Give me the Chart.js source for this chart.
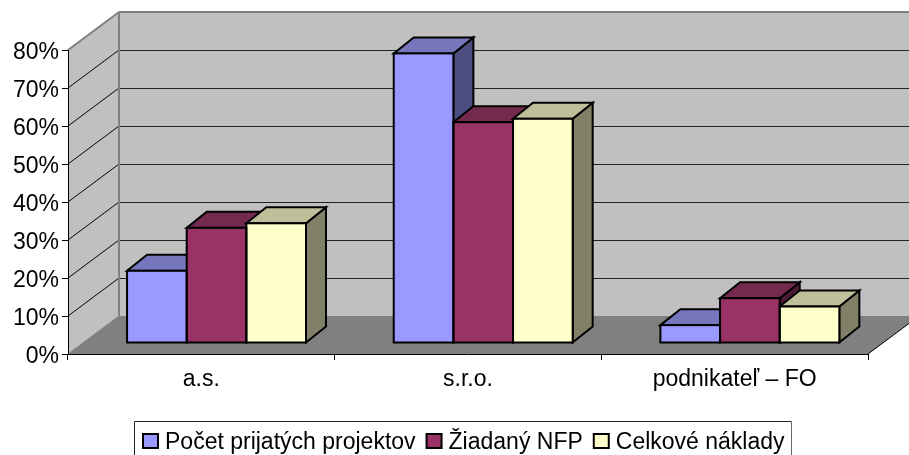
<!DOCTYPE html>
<html>
<head>
<meta charset="utf-8">
<style>
  html, body { margin: 0; padding: 0; background: #fff; overflow: hidden; }
  canvas { display: block; }
</style>
<script src="https://cdn.jsdelivr.net/npm/chart.js@4"></script>
</head>
<body>
<canvas id="chart" width="909" height="455"></canvas>
<script>
const categories = ['a.s.', 's.r.o.', 'podnikateľ – FO'];
const seriesNames = ['Počet prijatých projektov', 'Žiadaný NFP', 'Celkové náklady'];
const prijateProjekty = [19, 76.2, 4.7];
const ziadanyNfp = [30.3, 58.1, 11.8];
const celkoveNaklady = [31.5, 59, 9.6];
const yTicks = [0, 10, 20, 30, 40, 50, 60, 70, 80];

const frontColors = ['#9999ff', '#993366', '#ffffcc'];
const topColors = ['#7676bd', '#732a4e', '#bfbf99'];
const sideColors = ['#4d4d80', '#4d1a33', '#808066'];

const FONT = '"Liberation Sans", Arial, sans-serif';
const WALL_DX = 51, WALL_DY = -38;    // front plane -> back wall
const BAR_DX = 15.2, BAR_DY = -11;    // front plane -> front of the bars
const DEPTH_DX = 20, DEPTH_DY = -16;  // depth of one bar

function poly(ctx, pts, fill, stroke, width) {
    ctx.beginPath();
    pts.forEach((p, i) => i ? ctx.lineTo(p[0], p[1]) : ctx.moveTo(p[0], p[1]));
    ctx.closePath();
    if (fill) { ctx.fillStyle = fill; ctx.fill(); }
    if (stroke) { ctx.strokeStyle = stroke; ctx.lineWidth = width; ctx.stroke(); }
}

function line(ctx, x1, y1, x2, y2, color, width) {
    ctx.beginPath();
    ctx.moveTo(x1, y1);
    ctx.lineTo(x2, y2);
    ctx.strokeStyle = color;
    ctx.lineWidth = width;
    ctx.stroke();
}

// side wall, back wall, floor and the grid on them
const wallsPlugin = {
    id: 'walls',
    beforeDraw(chart) {
        const { ctx, chartArea: a, scales } = chart;
        const y = scales.y;
        const top = y.getPixelForValue(80), bottom = y.getPixelForValue(0);
        const bx = a.left + WALL_DX, brx = a.right + WALL_DX;
        ctx.save();
        poly(ctx, [[bx, top + WALL_DY], [brx, top + WALL_DY], [brx, bottom + WALL_DY], [bx, bottom + WALL_DY]], '#c0c0c0');
        poly(ctx, [[a.left, top], [bx, top + WALL_DY], [bx, bottom + WALL_DY], [a.left, bottom]], '#c0c0c0');
        poly(ctx, [[a.left, bottom], [a.right, bottom], [brx, bottom + WALL_DY], [bx, bottom + WALL_DY]], '#808080');
        yTicks.slice(1, -1).forEach(v => {
            const py = Math.round(y.getPixelForValue(v));
            line(ctx, a.left, py, bx, py + WALL_DY, '#000', 1);
            line(ctx, bx, py + WALL_DY + 0.5, brx, py + WALL_DY + 0.5, '#222', 1);
        });
        line(ctx, a.left, top, bx, top + WALL_DY, '#808080', 2);
        line(ctx, bx, top + WALL_DY, brx, top + WALL_DY, '#808080', 2);
        line(ctx, bx, top + WALL_DY, bx, bottom + WALL_DY, '#808080', 2);
        line(ctx, a.left, bottom, bx, bottom + WALL_DY, '#808080', 1);
        line(ctx, a.right, bottom, brx, bottom + WALL_DY, '#000', 1);
        ctx.restore();
    }
};

// bars sit inside the box, so shift them and give them a top and a side
const depthPlugin = {
    id: 'depth',
    beforeDatasetsDraw(chart) {
        const ctx = chart.ctx;
        ctx.save();
        ctx.translate(BAR_DX, BAR_DY);
        ctx.lineJoin = 'miter';
        categories.forEach((c, i) => {
            chart.data.datasets.forEach((ds, d) => {
                const bar = chart.getDatasetMeta(d).data[i];
                const l = bar.x - bar.width / 2, r = bar.x + bar.width / 2;
                poly(ctx, [[r, bar.y], [r + DEPTH_DX, bar.y + DEPTH_DY], [r + DEPTH_DX, bar.base + DEPTH_DY], [r, bar.base]], sideColors[d], '#000', 2);
                poly(ctx, [[l, bar.y], [l + DEPTH_DX, bar.y + DEPTH_DY], [r + DEPTH_DX, bar.y + DEPTH_DY], [r, bar.y]], topColors[d], '#000', 2);
            });
        });
    },
    afterDatasetsDraw(chart) {
        const ctx = chart.ctx;
        chart.data.datasets.forEach((ds, d) => {
            chart.getDatasetMeta(d).data.forEach(bar => {
                ctx.strokeStyle = '#000';
                ctx.lineWidth = 2;
                ctx.strokeRect(bar.x - bar.width / 2, bar.y, bar.width, bar.base - bar.y);
            });
        });
        ctx.restore();
    }
};

// legend frame runs off the bottom of the picture, the built-in legend can't do that
const legendPlugin = {
    id: 'boxLegend',
    afterDraw(chart) {
        const ctx = chart.ctx;
        ctx.save();
        line(ctx, 134.5, 421.5, 791.5, 421.5, '#222', 1);
        line(ctx, 134.5, 421.5, 134.5, 455, '#222', 1);
        line(ctx, 791.5, 421.5, 791.5, 455, '#666', 1);
        ctx.font = '23px ' + FONT;
        ctx.textBaseline = 'alphabetic';
        let x = 143;
        seriesNames.forEach((name, i) => {
            ctx.fillStyle = frontColors[i];
            ctx.fillRect(x, 434, 15, 14);
            ctx.strokeStyle = '#000';
            ctx.lineWidth = 2;
            ctx.strokeRect(x, 434, 15, 14);
            ctx.fillStyle = '#000';
            ctx.fillText(name, x + 22, 449);
            x += 22 + ctx.measureText(name).width + 11;
        });
        ctx.restore();
    }
};

new Chart(document.getElementById('chart'), {
    type: 'bar',
    data: {
        labels: categories,
        datasets: [prijateProjekty, ziadanyNfp, celkoveNaklady].map((values, i) => ({
            label: seriesNames[i],
            data: values,
            backgroundColor: frontColors[i],
            borderWidth: 0,
            barPercentage: 1,
            categoryPercentage: 0.671
        }))
    },
    options: {
        responsive: false,
        animation: false,
        layout: {
            autoPadding: false,
            padding: { left: 0, right: 41, top: 50, bottom: 0 }
        },
        plugins: {
            legend: { display: false },
            tooltip: { enabled: false }
        },
        scales: {
            x: {
                afterFit: scale => { scale.height = 101; },
                grid: { offset: true, drawOnChartArea: false, tickLength: 6, tickColor: '#000' },
                border: { color: '#000' },
                ticks: {
                    color: '#000',
                    padding: 6,
                    maxRotation: 0,
                    font: { family: FONT, size: 23 }
                }
            },
            y: {
                min: 0,
                max: 80,
                afterFit: scale => { scale.width = 68; },
                afterBuildTicks: scale => { scale.ticks = yTicks.map(v => ({ value: v })); },
                grid: { drawOnChartArea: false, tickLength: 6, tickColor: '#000' },
                border: { color: '#000' },
                ticks: {
                    color: '#000',
                    padding: 3,
                    labelOffset: 3,
                    callback: v => v + '%',
                    font: { family: FONT, size: 23 }
                }
            }
        }
    },
    plugins: [wallsPlugin, depthPlugin, legendPlugin]
});
</script>
</body>
</html>
